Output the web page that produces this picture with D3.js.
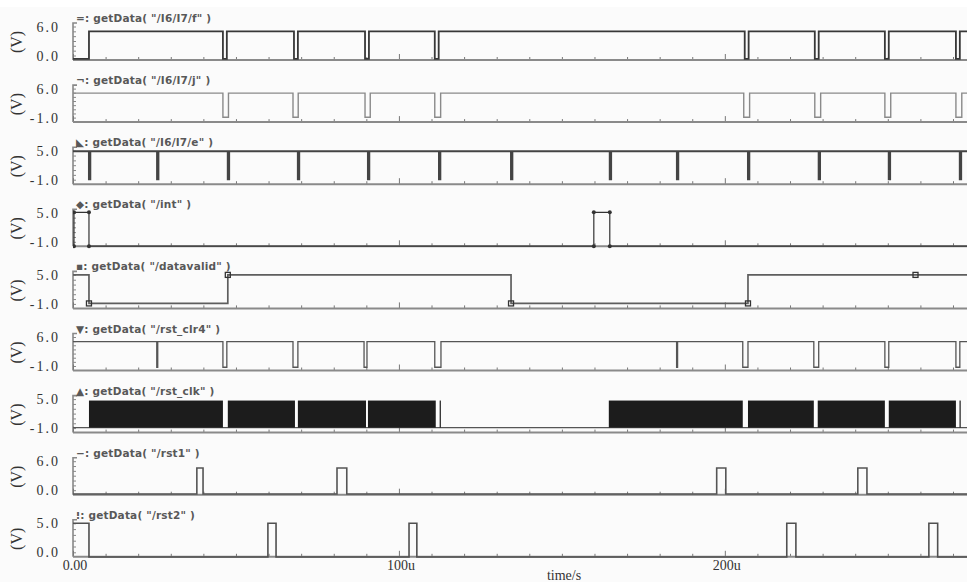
<!DOCTYPE html>
<html><head><meta charset="utf-8">
<script src="https://cdn.jsdelivr.net/npm/d3@7"></script>
<style>body{margin:0;background:#fff}svg{display:block}</style>
</head><body><div id="chart"></div>
<script>
// ---- data (times in microseconds, values in volts) ----
const xTickLabels = ["0.00", "100u", "200u"];
const xMajor = [0, 100, 200];
const traceNames = ["/I6/I7/f", "/I6/I7/j", "/I6/I7/e", "/int", "/datavalid", "/rst_clr4", "/rst_clk", "/rst1", "/rst2"];
const traceSymbols = ["=", "¬", "◣", "◆", "▪", "▼", "▲", "−", "⁝"];
const yDomains = [[0, 6], [-1, 6], [-1, 5], [-1, 5], [-1, 5], [-1, 6], [-1, 5], [0, 6], [0, 5]];
const yTickLabels = [["0.0", "6.0"], ["-1.0", "6.0"], ["-1.0", "5.0"], ["-1.0", "5.0"], ["-1.0", "5.0"], ["-1.0", "6.0"], ["-1.0", "5.0"], ["0.0", "6.0"], ["0.0", "5.0"]];
// [low level, high level] of each trace
const levels = [[-0.7, 5.0], [-0.9, 4.9], [-0.9, 4.9], [-1.9, 5.1], [-0.9, 5.0], [-1.3, 4.9], [-0.9, 4.7], [-0.8, 4.6], [-0.8, 5.0]];
// initial state (1 = high, 0 = low)
const startState = [0, 1, 1, 0, 1, 1, 0, 0, 1];
// toggle times of each trace
const fToggles = [4.9, 46.0, 47.2, 67.8, 69.0, 89.6, 90.8, 111.0, 112.2, 206.1, 207.3, 227.6, 228.8, 249.1, 250.3, 270.9, 272.1];
const jToggles = [46.0, 47.7, 67.5, 69.1, 89.6, 91.2, 111.0, 112.8, 205.8, 207.6, 227.6, 229.4, 249.1, 250.9, 270.9, 272.7];
const eToggles = [4.9, 5.3, 25.8, 26.2, 47.5, 47.9, 69.0, 69.4, 90.5, 90.9, 112.3, 112.7, 134.4, 134.8, 164.7, 165.1, 185.3, 185.7, 207.1, 207.5, 228.8, 229.2, 250.3, 250.7, 272.1, 272.5];
const intToggles = [0.3, 4.9, 159.8, 164.7];
const datavalidToggles = [4.9, 47.5, 134.4, 207.1];
const rstClr4Toggles = [25.7, 26.0, 46.0, 47.2, 67.5, 69.0, 89.3, 90.2, 111.0, 112.9, 185.2, 185.5, 205.5, 207.1, 227.3, 228.8, 249.1, 250.3, 270.9, 272.1];
const rstClkToggles = [];
// rst_clk toggles too fast to resolve: bursts of clocking [start, end]
const rstClkBursts = [[4.9, 46.0], [47.5, 68.1], [69.0, 89.9], [90.5, 111.3], [112.5, 112.8], [164.4, 205.5], [207.1, 227.3], [228.5, 249.1], [250.3, 270.9], [272.0, 272.3]];
const rst1Toggles = [38.0, 39.9, 81.0, 84.0, 197.5, 200.3, 240.8, 243.6];
const rst2Toggles = [4.9, 59.8, 62.3, 103.1, 105.5, 219.0, 221.8, 262.6, 265.3];
const toggles = [fToggles, jToggles, eToggles, intToggles, datavalidToggles, rstClr4Toggles, rstClkToggles, rst1Toggles, rst2Toggles];
// trace marker symbols of /datavalid: [time, value]
const datavalidMarkers = [[4.9, -0.9], [47.5, 5.0], [134.4, -0.9], [207.1, -0.9], [258.5, 5.0]];
const xDomain = [0, 274.3];

// ---- layout ----
const W = 967, H = 582;
const left = 73, right = 967;
const axis0 = 60, step = 62.1;
const traceColors = ["#383838", "#8a8a8a", "#444", "#333", "#5e5e5e", "#555", "#1c1c1c", "#555", "#505050"];
const traceWidths = [1.8, 1.4, 2.0, 1.2, 1.7, 1.3, 1.3, 1.6, 1.6];
const serif = "'Liberation Serif', 'DejaVu Serif', serif";

const svg = d3.select("#chart").append("svg").attr("width", W).attr("height", H);
svg.append("rect").attr("x", 0).attr("y", 7).attr("width", W).attr("height", H - 7).attr("fill", "#fbfbfb");
svg.append("clipPath").attr("id", "clip").append("rect").attr("x", left).attr("y", 0).attr("width", right - left).attr("height", H);

const x = d3.scaleLinear().domain(xDomain).range([left, right]);

traceNames.forEach((name, i) => {
  const ay = axis0 + i * step;
  const [lo, hi] = yDomains[i];
  const y = d3.scaleLinear().domain([lo, hi]).range([ay - 4.5, ay - 33.5]);
  const g = svg.append("g");

  // left axis with minor ticks
  const ya = d3.axisRight(y).tickValues(d3.range(lo, hi + 0.001, 1)).tickSize(3).tickFormat("");
  const yg = g.append("g").attr("transform", `translate(${left},0)`).call(ya);
  yg.select(".domain").remove();
  yg.selectAll("line").attr("stroke", "#888").attr("stroke-width", 1);
  g.append("path").attr("d", `M${left + 4},${ay - 37}H${left}V${ay}`).attr("fill", "none").attr("stroke", "#888").attr("stroke-width", 1.6);

  // x axis
  const xa = d3.axisTop(x).tickValues(d3.range(0, xDomain[1], 10)).tickSize(3).tickFormat("");
  const xg = g.append("g").attr("transform", `translate(0,${ay})`).call(xa);
  xg.select(".domain").remove();
  xg.selectAll(".tick line").attr("stroke", "#777").attr("stroke-width", 1)
    .attr("y2", d => xMajor.includes(d) ? -6 : -3);
  g.append("line").attr("x1", left).attr("x2", right).attr("y1", ay).attr("y2", ay)
    .attr("stroke", "#8a8a8a").attr("stroke-width", 2);

  // y tick labels
  [lo, hi].forEach((v, k) => {
    g.append("text").attr("x", 60).attr("y", y(v)).attr("dy", "0.36em").attr("text-anchor", "end")
      .attr("font-family", serif).attr("font-size", 14)
      .attr("letter-spacing", 2).attr("fill", "#333").text(yTickLabels[i][k]);
  });
  // (V)
  g.append("text").attr("transform", `translate(16,${ay - 18}) rotate(-90)`).attr("text-anchor", "middle")
    .attr("dy", "0.35em").attr("font-family", serif).attr("font-size", 16)
    .attr("fill", "#333").text("(V)");
  // title
  g.append("text").attr("x", 76).attr("y", ay - 38).attr("font-family", "'DejaVu Sans', Verdana, sans-serif")
    .attr("font-weight", "bold").attr("font-size", 10.5).attr("letter-spacing", 0.2).attr("fill", "#585858")
    .text(`${traceSymbols[i]}: getData( "${name}" )`);

  const plot = g.append("g").attr("clip-path", "url(#clip)");
  if (name === "/rst_clk") {
    plot.append("line").attr("x1", left).attr("x2", right).attr("y1", y(levels[i][0])).attr("y2", y(levels[i][0]))
      .attr("stroke", "#555").attr("stroke-width", 1.3);
    plot.selectAll("rect.burst").data(rstClkBursts).join("rect").attr("class", "burst")
      .attr("x", d => x(d[0])).attr("width", d => Math.max(1.2, x(d[1]) - x(d[0])))
      .attr("y", y(levels[i][1])).attr("height", y(levels[i][0]) - y(levels[i][1]))
      .attr("fill", traceColors[i]);
    return;
  }
  let state = startState[i];
  const pts = [[xDomain[0], levels[i][state]]];
  toggles[i].forEach(t => { state = 1 - state; pts.push([t, levels[i][state]]); });
  pts.push([xDomain[1] + 5, levels[i][state]]);
  const line = d3.line().x(d => x(d[0])).y(d => y(d[1])).curve(d3.curveStepAfter);
  plot.append("path").attr("d", line(pts)).attr("fill", "none")
    .attr("stroke", traceColors[i]).attr("stroke-width", traceWidths[i]);
  if (name === "/int") {
    const corners = [];
    let s = startState[i];
    toggles[i].forEach(t => { corners.push([t, levels[i][s]]); s = 1 - s; corners.push([t, levels[i][s]]); });
    plot.selectAll("circle").data(corners).join("circle").attr("cx", d => x(d[0])).attr("cy", d => y(d[1]))
      .attr("r", 2).attr("fill", "#333");
  }
  if (name === "/datavalid") {
    plot.selectAll("rect.mk").data(datavalidMarkers).join("rect").attr("class", "mk")
      .attr("x", d => x(d[0]) - 2.5).attr("y", d => y(d[1]) - 2.5).attr("width", 5).attr("height", 5)
      .attr("fill", "none").attr("stroke", "#333").attr("stroke-width", 1.3);
  }
});

// bottom axis labels
const lastAy = axis0 + 8 * step;
xMajor.forEach((v, k) => {
  svg.append("text").attr("x", x(v) + 2).attr("y", lastAy + 13).attr("text-anchor", "middle")
    .attr("font-family", serif).attr("font-size", 14).attr("fill", "#333")
    .text(xTickLabels[k]);
});
svg.append("text").attr("x", 564).attr("y", lastAy + 23).attr("text-anchor", "middle")
  .attr("font-family", serif).attr("font-size", 14).attr("fill", "#333")
  .text("time/s");
</script></body></html>
